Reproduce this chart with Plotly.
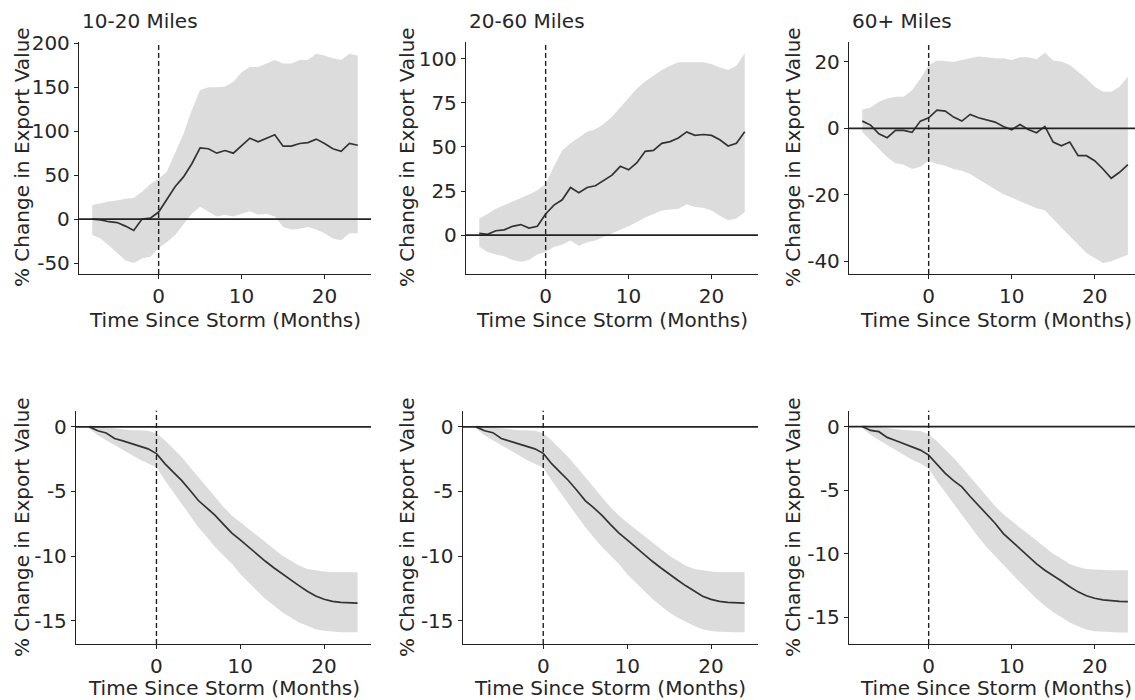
import plotly.graph_objects as go

months = list(range(-8, 25))

# ---- Top row: export value by distance ----
p1_est = [0, -1, -3, -4, -8, -13, 0, 1, 8, 22, 37, 48, 63, 81, 80, 75, 78, 75, 84, 92, 88, 92, 96, 83, 83, 86, 87, 91, 86, 80, 77, 86, 84]
p1_hi = [16, 18, 20, 21, 23, 24, 31, 40, 46, 54, 75, 97, 124, 147, 150, 150, 151, 156, 167, 173, 173, 177, 181, 177, 177, 181, 181, 188, 186, 183, 181, 188, 186]
p1_lo = [-18, -22, -30, -39, -47, -50, -45, -43, -33, -26, -18, -6, 6, 14, 8, 3, 5, 3, 6, 9, 5, 6, 3, -9, -12, -11, -9, -12, -16, -22, -24, -16, -16]

p2_est = [1, 0.5, 2.5, 3, 5, 6, 4, 5, 12, 17, 20, 27, 24, 27, 28, 31, 34, 39, 37, 41, 47.5, 48, 52, 53, 55, 58.5, 56.5, 57, 56.5, 54, 50.5, 52, 58.5]
p2_hi = [9.5, 12, 15, 17, 19, 21, 23, 25.5, 29, 39, 48, 52, 55, 58.5, 60, 63, 67, 72.5, 78, 83, 87, 90.5, 93.5, 96, 98, 98, 98, 98, 97, 95, 93.5, 96, 103]
p2_lo = [-6.5, -9.5, -11, -12, -14, -15, -14, -11, -9.5, -6.5, -5.5, -3, -6, -4, -3, -1, 1, 3, 5, 7.5, 10, 12, 14, 14.5, 15, 17.5, 16, 15.5, 14, 11, 8.5, 9.5, 13]

p3_est = [2.2, 1, -1.6, -2.8, -0.6, -0.6, -1.2, 2.2, 3.2, 5.5, 5.2, 3.4, 2.2, 4.2, 3.2, 2.6, 1.9, 0.6, -0.4, 1.2, -0.3, -1.3, 0.6, -4.1, -5.2, -4.1, -8.2, -8.2, -9.7, -12.2, -15, -13.2, -10.9]
p3_hi = [5.7, 6.3, 8, 9, 9.5, 9.5, 11.5, 15, 19, 20.4, 20.3, 20, 20.6, 21.1, 21.6, 21.4, 21.1, 21.1, 20.6, 21.4, 21.4, 20.8, 22.8, 20.4, 20.1, 19.1, 17, 15, 12.5, 11, 11, 12.5, 15.6]
p3_lo = [-1.1, -3.6, -6.2, -8.7, -10.5, -10.9, -12.2, -11.5, -9.7, -10.7, -11.2, -12.2, -12.7, -13.7, -15.3, -16.8, -18.3, -19.8, -20.8, -21.8, -23, -24, -24.6, -27.4, -29.9, -32.4, -35, -37.5, -39, -40.5, -40, -39, -38]

# ---- Bottom row ----
b1_est = [0, -0.3, -0.47, -0.9, -1.09, -1.3, -1.5, -1.7, -2.07, -2.84, -3.5, -4.14, -4.9, -5.7, -6.26, -6.85, -7.55, -8.22, -8.74, -9.3, -9.88, -10.4, -10.9, -11.38, -11.84, -12.28, -12.72, -13.08, -13.34, -13.5, -13.58, -13.63, -13.63]
b1_hi = [0.13, 0.05, 0, -0.13, -0.2, -0.26, -0.26, -0.3, -0.5, -1.03, -1.68, -2.33, -3.1, -3.88, -4.65, -5.43, -6.2, -6.85, -7.37, -7.9, -8.4, -8.92, -9.44, -9.96, -10.34, -10.73, -10.99, -11.12, -11.2, -11.25, -11.25, -11.25, -11.25]
b1_lo = [-0.13, -0.65, -1.03, -1.42, -1.81, -2.2, -2.53, -2.84, -3.15, -4.14, -5.04, -5.95, -6.85, -7.76, -8.53, -9.3, -9.96, -10.6, -11.38, -12.03, -12.67, -13.32, -13.83, -14.35, -14.74, -15.13, -15.39, -15.65, -15.77, -15.83, -15.9, -15.9, -15.9]

b2_est = [0, -0.3, -0.45, -0.9, -1.1, -1.3, -1.5, -1.7, -2.05, -2.85, -3.5, -4.15, -4.9, -5.7, -6.25, -6.85, -7.55, -8.2, -8.75, -9.3, -9.9, -10.4, -10.9, -11.4, -11.85, -12.3, -12.7, -13.1, -13.35, -13.5, -13.58, -13.62, -13.63]
b2_hi = [0.13, 0.05, 0, -0.13, -0.2, -0.26, -0.26, -0.3, -0.5, -1.05, -1.7, -2.35, -3.1, -3.9, -4.65, -5.45, -6.2, -6.85, -7.4, -7.9, -8.4, -8.92, -9.45, -9.95, -10.35, -10.75, -11.0, -11.12, -11.2, -11.25, -11.25, -11.25, -11.25]
b2_lo = [-0.13, -0.65, -1.03, -1.42, -1.8, -2.2, -2.55, -2.85, -3.15, -4.15, -5.05, -5.95, -6.85, -7.75, -8.55, -9.3, -9.95, -10.6, -11.4, -12.05, -12.7, -13.3, -13.85, -14.35, -14.75, -15.1, -15.4, -15.65, -15.8, -15.85, -15.9, -15.9, -15.9]

b3_est = [0, -0.3, -0.4, -0.85, -1.1, -1.35, -1.6, -1.85, -2.24, -3.0, -3.68, -4.25, -4.74, -5.5, -6.2, -6.84, -7.6, -8.42, -9.0, -9.6, -10.2, -10.8, -11.3, -11.7, -12.15, -12.6, -13.0, -13.3, -13.5, -13.63, -13.7, -13.74, -13.76]
b3_hi = [0.13, 0.05, 0, -0.13, -0.2, -0.26, -0.3, -0.35, -0.6, -1.15, -1.8, -2.45, -3.2, -3.95, -4.7, -5.5, -6.25, -6.9, -7.45, -7.95, -8.45, -8.95, -9.5, -10.0, -10.4, -10.8, -11.05, -11.2, -11.25, -11.3, -11.3, -11.3, -11.3]
b3_lo = [-0.13, -0.65, -1.05, -1.45, -1.85, -2.25, -2.6, -2.9, -3.3, -4.3, -5.2, -6.1, -7.0, -7.9, -8.7, -9.5, -10.2, -10.85, -11.6, -12.25, -12.9, -13.55, -14.1, -14.6, -15.0, -15.4, -15.7, -15.95, -16.1, -16.15, -16.2, -16.2, -16.2]

panel_titles = ["10-20 Miles", "20-60 Miles", "60+ Miles"]
x_title = "Time Since Storm (Months)"
y_title = "% Change in Export Value"

x_tickvals = [0, 10, 20]
y_ticks = [
    [-50, 0, 50, 100, 150, 200],
    [0, 25, 50, 75, 100],
    [-40, -20, 0, 20],
    [-15, -10, -5, 0],
    [-15, -10, -5, 0],
    [-15, -10, -5, 0],
]

panels = [
    (p1_est, p1_hi, p1_lo),
    (p2_est, p2_hi, p2_lo),
    (p3_est, p3_hi, p3_lo),
    (b1_est, b1_hi, b1_lo),
    (b2_est, b2_hi, b2_lo),
    (b3_est, b3_hi, b3_lo),
]

W, H = 1135, 700
# pixel boxes (left, right, top, bottom)
boxes = [
    (79, 371, 42, 274), (466, 758, 42, 274), (849, 1135, 42, 274),
    (76, 371, 410.7, 644), (462.7, 758, 410.7, 644), (849, 1135, 410.7, 644),
]
x_ranges = [[-9.6, 25.6], [-9.6, 25.6], [-9.6, 24.86]] * 2
y_ranges = [[-62.5, 201.5], [-22, 109.4], [-43.8, 26], [-16.8, 1.25], [-16.8, 1.25], [-17.1, 1.25]]

FONT = "DejaVu Sans"
TXT = "#262626"
AX = "#222222"

fig = go.Figure()
layout = dict(
    width=W, height=H, margin=dict(l=0, r=0, t=0, b=0, autoexpand=False),
    paper_bgcolor="white", plot_bgcolor="white", showlegend=False,
    font=dict(family=FONT, size=20, color=TXT),
)
shapes = []
annotations = []

for i, (est, hi, lo) in enumerate(panels):
    n = i + 1
    xa = "x" if n == 1 else f"x{n}"
    ya = "y" if n == 1 else f"y{n}"
    fig.add_trace(go.Scatter(x=months, y=lo, mode="lines", line=dict(width=0),
                             xaxis=xa, yaxis=ya, hoverinfo="skip"))
    fig.add_trace(go.Scatter(x=months, y=hi, mode="lines", line=dict(width=0),
                             fill="tonexty", fillcolor="#dcdcdc",
                             xaxis=xa, yaxis=ya, hoverinfo="skip"))
    fig.add_trace(go.Scatter(x=months, y=est, mode="lines",
                             line=dict(color="#333333", width=1.7),
                             xaxis=xa, yaxis=ya))
    l, r, t, b = boxes[i]
    axkey = "xaxis" if n == 1 else f"xaxis{n}"
    aykey = "yaxis" if n == 1 else f"yaxis{n}"
    layout[axkey] = dict(
        domain=[l / W, min(r / W, 1)], range=x_ranges[i], anchor=ya, automargin=False,
        showgrid=False, zeroline=False, showline=True, linecolor=AX, linewidth=1.3,
        ticks="outside", ticklen=4, tickwidth=1.3, tickcolor=AX,
        tickvals=x_tickvals, ticktext=[str(v) for v in x_tickvals],
        tickfont=dict(family=FONT, size=20, color=TXT),
    )
    yv = y_ticks[i]
    layout[aykey] = dict(
        domain=[1 - b / H, 1 - t / H], range=y_ranges[i], anchor=xa, automargin=False,
        showgrid=False, zeroline=False, showline=True, linecolor=AX, linewidth=1.3,
        ticks="outside", ticklen=4, tickwidth=1.3, tickcolor=AX,
        tickvals=yv, ticktext=[str(v) for v in yv],
        tickfont=dict(family=FONT, size=20, color=TXT),
    )
    # horizontal zero line
    shapes.append(dict(type="line", xref=f"{xa} domain", yref=ya, x0=0, x1=1, y0=0, y1=0,
                       line=dict(color="#222222", width=1.6), layer="above"))
    # vertical dashed line at storm
    shapes.append(dict(type="line", xref=xa, yref=f"{ya} domain", x0=0, x1=0, y0=0, y1=1,
                       line=dict(color="#222222", width=1.4, dash="5px,3px"), layer="above"))
    # x title
    row_top = i < 3
    xc = (l + r) / 2 if i % 3 != 2 else 996
    annotations.append(dict(text=x_title, xref="paper", yref="paper", x=xc / W,
                            y=1 - (320 if row_top else 688) / H, xanchor="center", yanchor="middle",
                            showarrow=False, font=dict(family=FONT, size=20, color=TXT)))
    # y title
    yx = [22, 407, 793][i % 3]
    annotations.append(dict(text=y_title, xref="paper", yref="paper", x=yx / W,
                            y=1 - (157 if row_top else 527) / H, xanchor="center", yanchor="middle",
                            textangle=-90, showarrow=False, font=dict(family=FONT, size=20, color=TXT)))
    if row_top:
        annotations.append(dict(text=panel_titles[i], xref="paper", yref="paper", x=(l + 1) / W,
                                y=1 - 21.5 / H, xanchor="left", yanchor="middle",
                                showarrow=False, font=dict(family=FONT, size=20, color=TXT)))

layout["shapes"] = shapes
layout["annotations"] = annotations
fig.update_layout(**layout)
fig.write_html(
    "out.html",
    config={"displayModeBar": False},
    post_script="document.body.style.margin='0';document.body.style.overflow='hidden';"
                "document.documentElement.style.overflow='hidden';",
)
